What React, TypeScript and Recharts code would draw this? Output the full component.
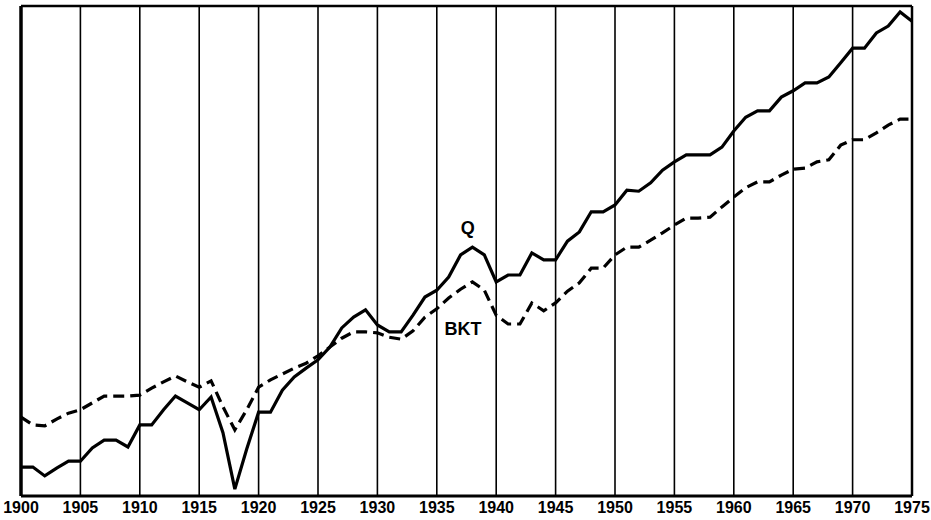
import React from 'react';
import { LineChart, Line, XAxis, YAxis, CartesianGrid, ReferenceLine, ReferenceDot } from 'recharts';

const years: number[] = [];
for (let y = 1900; y <= 1975; y++) years.push(y);

const qValues = [
  5.9, 5.9, 4.1, 5.7, 7.1, 7.1, 9.8, 11.4, 11.4, 10.0,
  14.5, 14.5, 17.6, 20.4, 19.0, 17.6, 20.2, 12.9, 1.4, 9.6,
  17.1, 17.1, 21.6, 24.3, 26.1, 27.8, 30.4, 34.3, 36.5, 38.0,
  34.9, 33.5, 33.5, 36.9, 40.6, 42.0, 44.7, 49.2, 50.8, 49.2,
  43.7, 45.1, 45.1, 49.6, 48.2, 48.2, 52.0, 53.9, 58.0, 58.0,
  59.4, 62.4, 62.2, 63.9, 66.5, 68.2, 69.6, 69.6, 69.6, 71.2,
  74.5, 77.3, 78.6, 78.6, 81.4, 82.7, 84.3, 84.3, 85.5, 88.4,
  91.4, 91.4, 94.5, 95.9, 98.8, 96.9,
];

const bktValues = [
  16.1, 14.5, 14.3, 15.7, 16.9, 17.6, 19.0, 20.4, 20.4, 20.4,
  20.6, 22.0, 23.3, 24.5, 23.3, 22.2, 23.5, 18.2, 13.5, 17.6,
  22.2, 23.7, 24.9, 26.1, 27.1, 28.6, 30.4, 32.2, 33.5, 33.5,
  33.3, 32.4, 32.0, 33.7, 36.5, 38.2, 40.4, 42.2, 43.7, 42.0,
  36.9, 35.1, 35.1, 39.4, 37.8, 39.4, 41.8, 43.5, 46.5, 46.5,
  49.2, 50.8, 50.8, 52.2, 53.7, 55.3, 56.7, 56.7, 56.9, 59.0,
  61.0, 62.9, 64.1, 64.1, 65.5, 66.7, 66.9, 68.2, 68.6, 71.6,
  72.7, 72.7, 74.1, 75.7, 76.9, 76.9,
];

const xTicks = [1900, 1905, 1910, 1915, 1920, 1925, 1930, 1935, 1940, 1945, 1950, 1955, 1960, 1965, 1970, 1975];

const data = years.map((year, i) => ({ year, q: qValues[i], bkt: bktValues[i] }));

const font = '"Liberation Sans", Arial, Helvetica, sans-serif';

export default function App() {
  return (
    <div style={{ position: 'absolute', left: 0, top: 0, width: 931, height: 520, background: '#fff' }}>
      <LineChart width={931} height={520} data={data} margin={{ top: 6, right: 19, left: 21, bottom: 0 }}>
        <CartesianGrid horizontal={false} vertical={true} stroke="#000" strokeWidth={1.6} />
        <XAxis
          dataKey="year"
          type="number"
          domain={[1900, 1975]}
          ticks={xTicks}
          interval={0}
          height={24}
          tickLine={false}
          tickSize={4}
          tickMargin={2}
          axisLine={{ stroke: '#000', strokeWidth: 3 }}
          tick={{ fontSize: 16, fontWeight: 'bold', fill: '#000', fontFamily: font }}
        />
        <YAxis type="number" domain={[0, 100]} hide width={0} />
        <ReferenceLine x={1900} stroke="#000" strokeWidth={3.5} />
        <ReferenceLine x={1975} stroke="#000" strokeWidth={2.5} />
        <ReferenceLine y={100} stroke="#000" strokeWidth={2.5} />
        <Line type="linear" dataKey="bkt" stroke="#000" strokeWidth={3.2} strokeDasharray="11 6" dot={false} isAnimationActive={false} />
        <Line type="linear" dataKey="q" stroke="#000" strokeWidth={3.2} dot={false} isAnimationActive={false} />
        <ReferenceDot
          x={1937.6}
          y={54.7}
          r={0}
          fill="none"
          stroke="none"
          label={{ value: 'Q', position: 'center', fontSize: 18, fontWeight: 'bold', fill: '#000', fontFamily: font }}
        />
        <ReferenceDot
          x={1937.2}
          y={34.1}
          r={0}
          fill="none"
          stroke="none"
          label={{ value: 'BKT', position: 'center', fontSize: 18, fontWeight: 'bold', fill: '#000', fontFamily: font }}
        />
      </LineChart>
    </div>
  );
}
